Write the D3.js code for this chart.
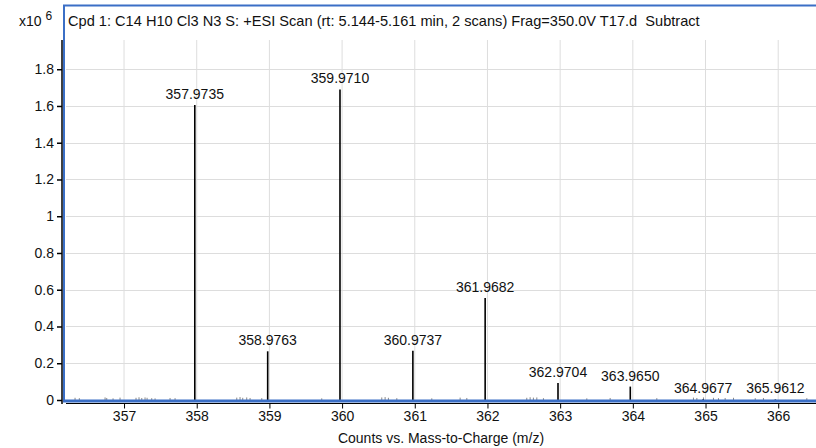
<!DOCTYPE html>
<html><head><meta charset="utf-8">
<script src="https://cdn.jsdelivr.net/npm/d3@7"></script>
<style>
html,body{margin:0;padding:0;background:#fff;}
svg{display:block;font-family:"Liberation Sans",Arial,sans-serif;}
</style></head>
<body>
<svg id="chart" width="816" height="448"></svg>
<script>
// ---- data ----
const title = "Cpd 1: C14 H10 Cl3 N3 S: +ESI Scan (rt: 5.144-5.161 min, 2 scans) Frag=350.0V T17.d  Subtract";
const peakMz = [357.9735, 358.9763, 359.9710, 360.9737, 361.9682, 362.9704, 363.9650, 364.9677, 365.9612];
const peakCounts = [1.605, 0.265, 1.69, 0.268, 0.555, 0.092, 0.073, 0.004, 0.003]; // x10^6
const noiseMz = [356.326, 356.385, 356.739, 356.762, 356.849, 356.945, 357.165, 357.206, 357.244, 357.289,
  357.317, 357.381, 357.427, 357.633, 357.702, 358.551, 358.596, 358.633, 358.688, 358.734, 358.895,
  359.720, 360.546, 360.592, 360.637, 360.753, 361.234, 361.624, 361.716, 362.541, 362.587, 362.632,
  362.679, 362.770, 363.367, 363.688, 364.330, 364.834, 364.881, 364.972, 365.109, 365.178, 365.270,
  365.385, 365.684, 365.797, 366.394];
const noiseCounts = [0.012, 0.010, 0.014, 0.011, 0.009, 0.013, 0.012, 0.015, 0.011, 0.014,
  0.012, 0.010, 0.009, 0.011, 0.010, 0.013, 0.016, 0.012, 0.014, 0.011, 0.010,
  0.009, 0.014, 0.016, 0.012, 0.010, 0.009, 0.013, 0.011, 0.012, 0.015, 0.013,
  0.014, 0.010, 0.009, 0.011, 0.010, 0.013, 0.011, 0.014, 0.012, 0.010, 0.011,
  0.012, 0.010, 0.011, 0.010];
const xTicks = [357, 358, 359, 360, 361, 362, 363, 364, 365, 366];
const yTicks = [0, 0.2, 0.4, 0.6, 0.8, 1, 1.2, 1.4, 1.6, 1.8];

// ---- layout ----
const svg = d3.select("#chart");
const x = d3.scaleLinear().domain([356.174, 366.52]).range([64, 816]);
const y = d3.scaleLinear().domain([0, 1.959]).range([400, 40]);
const blue = "#3b6fc6";
const font = 14;

// grid
svg.append("g").selectAll("line").data(xTicks).join("line")
  .attr("x1", d => x(d)).attr("x2", d => x(d)).attr("y1", 40).attr("y2", 400)
  .attr("stroke", "#dddddd").attr("stroke-width", 1);
svg.append("g").selectAll("line").data(yTicks.filter(d => d > 0)).join("line")
  .attr("x1", 66).attr("x2", 816).attr("y1", d => Math.round(y(d)) + 0.5).attr("y2", d => Math.round(y(d)) + 0.5)
  .attr("stroke", "#dddddd").attr("stroke-width", 1);

// noise
svg.append("g").selectAll("line").data(noiseMz).join("line")
  .attr("x1", d => x(d)).attr("x2", d => x(d))
  .attr("y1", y(0)).attr("y2", (d, i) => y(noiseCounts[i]))
  .attr("stroke", "#888").attr("stroke-width", 1);

// peaks
svg.append("g").selectAll("line").data(peakMz).join("line")
  .attr("x1", d => x(d)).attr("x2", d => x(d))
  .attr("y1", y(0)).attr("y2", (d, i) => y(peakCounts[i]))
  .attr("stroke", "#000").attr("stroke-width", 1.6);
svg.append("g").selectAll("text").data(peakMz).join("text")
  .attr("x", d => x(d)).attr("y", (d, i) => y(peakCounts[i]) - 6)
  .attr("text-anchor", "middle").attr("font-size", font).attr("fill", "#111")
  .text(d => d.toFixed(4));

// frame (blue)
svg.append("path")
  .attr("d", `M64,401 L64,5.5 L818,5.5`)
  .attr("fill", "none").attr("stroke", blue).attr("stroke-width", 2);
svg.append("line").attr("x1", 63).attr("x2", 816).attr("y1", 401).attr("y2", 401)
  .attr("stroke", blue).attr("stroke-width", 3);

// y axis
const yAxis = svg.append("g").attr("transform", "translate(62,0)")
  .call(d3.axisLeft(y).tickValues(yTicks).tickFormat(d3.format("")).tickSize(5).tickPadding(3));
yAxis.select(".domain").remove();
yAxis.selectAll("line").attr("stroke", "#000").attr("stroke-width", 1.5);
yAxis.selectAll("text").attr("font-size", font).attr("fill", "#111").attr("font-family", "Liberation Sans, Arial, sans-serif");
svg.append("line").attr("x1", 62).attr("x2", 62).attr("y1", 40).attr("y2", 404)
  .attr("stroke", "#000").attr("stroke-width", 1.5);

// x axis
const xAxis = svg.append("g").attr("transform", "translate(0,403.5)")
  .call(d3.axisBottom(x).tickValues(xTicks).tickFormat(d3.format("d")).tickSize(5).tickPadding(3));
xAxis.select(".domain").remove();
xAxis.selectAll("line").attr("stroke", "#000").attr("stroke-width", 1);
xAxis.selectAll("text").attr("font-size", font).attr("fill", "#111").attr("font-family", "Liberation Sans, Arial, sans-serif");
svg.append("line").attr("x1", 66).attr("x2", 816).attr("y1", 403.5).attr("y2", 403.5)
  .attr("stroke", "#000").attr("stroke-width", 1);

// texts
svg.append("text").attr("x", 68).attr("y", 26).attr("font-size", 14.6).attr("fill", "#111")
  .style("white-space", "pre").text(title);
const mult = svg.append("text").attr("x", 19).attr("y", 26).attr("font-size", font).attr("fill", "#111");
mult.append("tspan").text("x10 ");
mult.append("tspan").attr("dy", -6).attr("font-size", 12).text("6");
svg.append("text").attr("x", 441).attr("y", 443).attr("text-anchor", "middle")
  .attr("font-size", font).attr("fill", "#111").text("Counts vs. Mass-to-Charge (m/z)");
</script>
</body></html>
